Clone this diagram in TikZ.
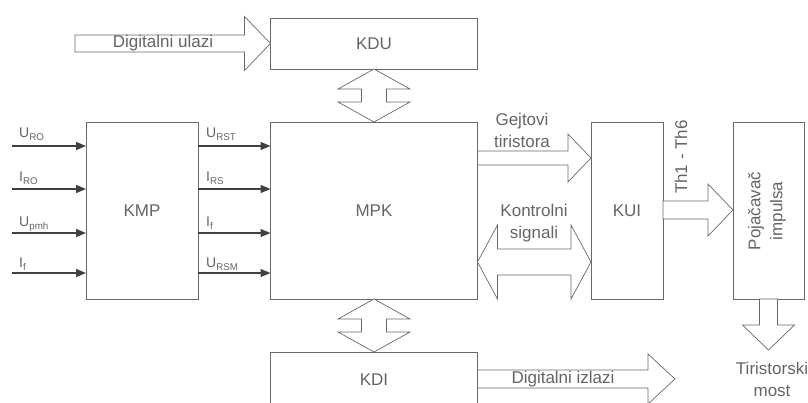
\documentclass[tikz,border=0pt]{standalone}
\usepackage{fontspec}
\setmainfont{Liberation Sans}
\usetikzlibrary{arrows.meta,calc}
\definecolor{linegray}{RGB}{105,105,105}
\definecolor{textgray}{RGB}{100,100,100}

% hollow arrow to the right: start, tip, shaft half width, head half width, head length
\newcommand{\fatright}[5]{%
  \draw[fat] ($(#1)+(0,-#3)$) -- ($(#2)+(-#5,-#3)$) -- ($(#2)+(-#5,-#4)$) -- (#2)
    -- ($(#2)+(-#5,#4)$) -- ($(#2)+(-#5,#3)$) -- ($(#1)+(0,#3)$) -- cycle;}
% hollow double arrow, left tip and right tip
\newcommand{\fatleftright}[5]{%
  \draw[fat] (#1) -- ($(#1)+(#5,-#4)$) -- ($(#1)+(#5,-#3)$) -- ($(#2)+(-#5,-#3)$)
    -- ($(#2)+(-#5,-#4)$) -- (#2) -- ($(#2)+(-#5,#4)$) -- ($(#2)+(-#5,#3)$)
    -- ($(#1)+(#5,#3)$) -- ($(#1)+(#5,#4)$) -- cycle;}
% hollow double arrow, top tip and bottom tip
\newcommand{\fatupdown}[5]{%
  \draw[fat] (#1) -- ($(#1)+(-#4,#5)$) -- ($(#1)+(-#3,#5)$) -- ($(#2)+(-#3,-#5)$)
    -- ($(#2)+(-#4,-#5)$) -- (#2) -- ($(#2)+(#4,-#5)$) -- ($(#2)+(#3,-#5)$)
    -- ($(#1)+(#3,#5)$) -- ($(#1)+(#4,#5)$) -- cycle;}
% hollow arrow downwards: start, tip
\newcommand{\fatdown}[5]{%
  \draw[fat] ($(#1)+(-#3,0)$) -- ($(#2)+(-#3,-#5)$) -- ($(#2)+(-#4,-#5)$) -- (#2)
    -- ($(#2)+(#4,-#5)$) -- ($(#2)+(#3,-#5)$) -- ($(#1)+(#3,0)$) -- cycle;}

\begin{document}
\begin{tikzpicture}[x=1pt,y=-1pt,
  box/.style={draw=linegray,line width=0.8pt,inner sep=0pt,outer sep=0pt,text=textgray,font=\fontsize{17}{22}\selectfont},
  fat/.style={draw=linegray,line width=0.7pt,fill=white},
  sig/.style={draw=black!75,line width=1.3pt,-{Triangle[length=10pt,width=8pt]}},
  lbl/.style={text=textgray,font=\fontsize{14}{16}\selectfont,inner sep=0pt,anchor=base west},
  txt/.style={text=textgray,font=\fontsize{17}{22}\selectfont,inner sep=0pt,align=center}]

\path[use as bounding box,clip] (0,0) rectangle (808,403);

% blocks
\node[box,minimum width=112pt,minimum height=177pt] (kmp) at (142,210.5) {KMP};
\node[box,minimum width=207pt,minimum height=177pt] (mpk) at (374,210.5) {MPK};
\node[box,minimum width=207pt,minimum height=51pt] (kdu) at (374,43.5) {KDU};
\node[box,minimum width=207pt,minimum height=80pt] (kdi) at (374,392) {};
\node[txt] (kditxt) at (374,380) {KDI};
\node[box,minimum width=72pt,minimum height=177pt] (kui) at (627,210.5) {KUI};
\node[box,minimum width=71pt,minimum height=177pt] (poj) at (768.5,210.5) {};
\node[txt,rotate=90] (pojtxt) at (767,211) {Pojačavač\\impulsa};

% measured signals into KMP and out of it
\coordinate (in1) at (12,146);
\coordinate (in2) at (12,189);
\coordinate (in3) at (12,233);
\coordinate (in4) at (12,273);
\draw[sig] (in1) -- (kmp.west |- in1);
\draw[sig] (in2) -- (kmp.west |- in2);
\draw[sig] (in3) -- (kmp.west |- in3);
\draw[sig] (in4) -- (kmp.west |- in4);
\draw[sig] (kmp.east |- in1) -- (mpk.west |- in1);
\draw[sig] (kmp.east |- in2) -- (mpk.west |- in2);
\draw[sig] (kmp.east |- in3) -- (mpk.west |- in3);
\draw[sig] (kmp.east |- in4) -- (mpk.west |- in4);

\node[lbl] (uro) at (19,138) {U\textsubscript{RO}};
\node[lbl] (iro) at (19,182) {I\textsubscript{RO}};
\node[lbl] (upmh) at (19,227) {U\textsubscript{pmh}};
\node[lbl] (if1) at (19,268) {I\textsubscript{f}};
\node[lbl] (urst) at (206,138) {U\textsubscript{RST}};
\node[lbl] (irs) at (206,182) {I\textsubscript{RS}};
\node[lbl] (if2) at (206,227) {I\textsubscript{f}};
\node[lbl] (ursm) at (206,268) {U\textsubscript{RSM}};

% digital inputs and outputs
\coordinate (du) at (75,43.5);
\fatright{du}{kdu.west}{8.5}{27}{26}
\node[txt] (dutxt) at (163,43) {Digitalni ulazi};

\coordinate (di1) at (kdi.east |- 0,379);
\coordinate (di2) at (675,379);
\fatright{di1}{di2}{9}{25}{27}
\node[txt] (ditxt) at (563,379) {Digitalni izlazi};

\fatupdown{kdu.south}{mpk.north}{12.5}{36}{20}
\fatupdown{mpk.south}{kdi.north}{12.5}{36}{20}

% MPK to KUI
\coordinate (g1) at (mpk.east |- 0,158);
\coordinate (g2) at (kui.west |- g1);
\fatright{g1}{g2}{7}{24}{23}
\node[txt] (gtxt) at (522,130) {Gejtovi\\tiristora};

\coordinate (k1) at (mpk.east |- 0,262);
\coordinate (k2) at (kui.west |- k1);
\fatleftright{k1}{k2}{13}{37}{20}
\node[txt] (ktxt) at (534,223) {Kontrolni\\signali};

% KUI to amplifier
\coordinate (t1) at (kui.east |- 0,210);
\coordinate (t2) at (poj.west |- t1);
\fatright{t1}{t2}{9}{26}{25}
\node[txt,rotate=90] (ttxt) at (681,157) {Th1 - Th6};

\coordinate (most) at (poj.south |- 0,350);
\fatdown{poj.south}{most}{9}{26}{25}
\node[txt] (mosttxt) at (772,379) {Tiristorski\\most};
\end{tikzpicture}
\end{document}
